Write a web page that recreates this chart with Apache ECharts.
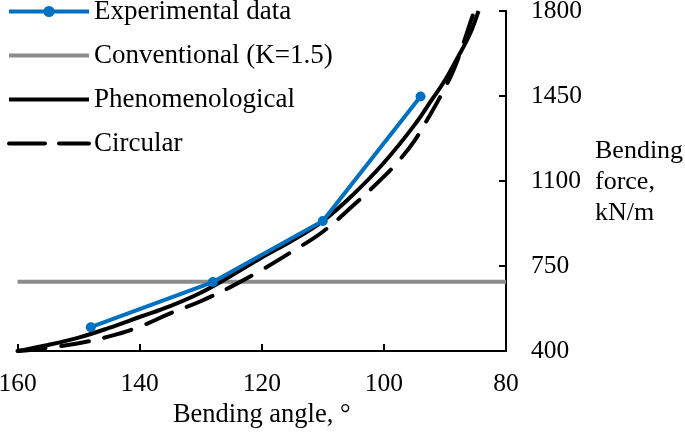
<!DOCTYPE html>
<html>
<head>
<meta charset="utf-8">
<script src="https://cdn.jsdelivr.net/npm/echarts@6/dist/echarts.min.js"></script>
<style>
html,body{margin:0;padding:0;background:#fff;}
#chart{width:685px;height:432px;}
</style>
</head>
<body>
<div id="chart"></div>
<script>
// Data
const xTicks = [160, 140, 120, 100, 80];
const yTicks = [400, 750, 1100, 1450, 1800];

const expAngle = [148, 128, 110, 94];
const expForce = [498, 684, 935, 1448];

const convAngle = [160, 80];
const convForce = [685, 685];

const phenAngle = [160, 155, 150, 145, 140, 135, 130, 125, 120, 115, 110, 105, 100, 95, 92, 90, 88, 86, 84.5];
const phenForce = [400, 425, 455, 495, 540, 585, 640, 710, 785, 855, 935, 1045, 1175, 1330, 1440, 1515, 1605, 1700, 1800];

const circAngle = [160, 155, 150, 145, 140, 135, 130, 125, 120, 115, 110, 105, 100, 97.5, 95, 92.5, 90.7, 88.7, 87, 85.7, 85.2];
const circForce = [400, 413, 432, 460, 500, 555, 605, 665, 734, 810, 891, 1000, 1118, 1185, 1265, 1370, 1450, 1550, 1665, 1763, 1800];

const names = ['Experimental data', 'Conventional (K=1.5)', 'Phenomenological', 'Circular'];

const zip = (a, b) => a.map((v, i) => [v, b[i]]);
const FONT = 'Liberation Serif';
const hideSym = {opacity: 0};
const LW = 4;

const chart = echarts.init(document.getElementById('chart'), null, {renderer: 'canvas'});
chart.setOption({
  animation: false,
  backgroundColor: '#fff',
  textStyle: {fontFamily: FONT, color: '#000'},
  grid: {left: 17.5, right: 179, top: 11, bottom: 81, containLabel: false, outerBoundsMode: 'none'},
  legend: {
    orient: 'vertical',
    left: 7, top: -2, padding: 0,
    itemWidth: 80, itemHeight: 14, itemGap: 17,
    lineStyle: {width: LW},
    textStyle: {fontFamily: FONT, fontSize: 27, color: '#000', padding: [0, 0, 0, 0]},
    data: [
      {name: names[0], lineStyle: {width: LW}},
      {name: names[1], itemStyle: hideSym, lineStyle: {width: LW}},
      {name: names[2], itemStyle: hideSym, lineStyle: {width: LW}},
      {name: names[3], itemStyle: hideSym, lineStyle: {width: LW, type: [36, 14]}}
    ]
  },
  xAxis: {
    type: 'value', inverse: true, min: 80, max: 160, interval: 20,
    name: 'Bending angle, °', nameLocation: 'middle', nameGap: 50,
    nameTextStyle: {fontFamily: FONT, fontSize: 26.5, color: '#000'},
    axisLine: {lineStyle: {color: '#000', width: 2}},
    axisTick: {inside: true, length: 7, lineStyle: {color: '#000', width: 2}},
    axisLabel: {fontFamily: FONT, fontSize: 25.5, color: '#000', margin: 20,
      formatter: v => xTicks.includes(v) ? String(v) : ''},
    splitLine: {show: false}
  },
  yAxis: {
    type: 'value', position: 'right', min: 400, max: 1800, interval: 350,
    axisLine: {show: true, lineStyle: {color: '#000', width: 2}},
    axisTick: {show: true, inside: true, length: 7, lineStyle: {color: '#000', width: 2}},
    axisLabel: {fontFamily: FONT, fontSize: 25.5, color: '#000', margin: 25,
      formatter: v => yTicks.includes(v) ? String(v) : ''},
    splitLine: {show: false}
  },
  graphic: [{
    type: 'text', left: 595, top: 136,
    style: {text: 'Bending\nforce,\nkN/m', font: '26px "Liberation Serif"', fill: '#000', lineHeight: 31}
  }],
  series: [
    {
      name: names[1], type: 'line', data: zip(convAngle, convForce),
      symbol: 'none', lineStyle: {color: '#8c8c8c', width: LW}, itemStyle: {color: '#8c8c8c'}, z: 1
    },
    {
      name: names[3], type: 'line', data: zip(circAngle, circForce), smooth: 0.4,
      symbol: 'none', lineStyle: {color: '#000', width: LW, type: [28, 16], cap: 'round'}, itemStyle: {color: '#000'}, z: 2
    },
    {
      name: names[2], type: 'line', data: zip(phenAngle, phenForce), smooth: 0.4,
      symbol: 'none', lineStyle: {color: '#000', width: LW}, itemStyle: {color: '#000'}, z: 3
    },
    {
      name: names[0], type: 'line', data: zip(expAngle, expForce),
      symbol: 'circle', symbolSize: 10, lineStyle: {color: '#0070C0', width: LW}, itemStyle: {color: '#0070C0'}, z: 4
    }
  ]
});
</script>
</body>
</html>
